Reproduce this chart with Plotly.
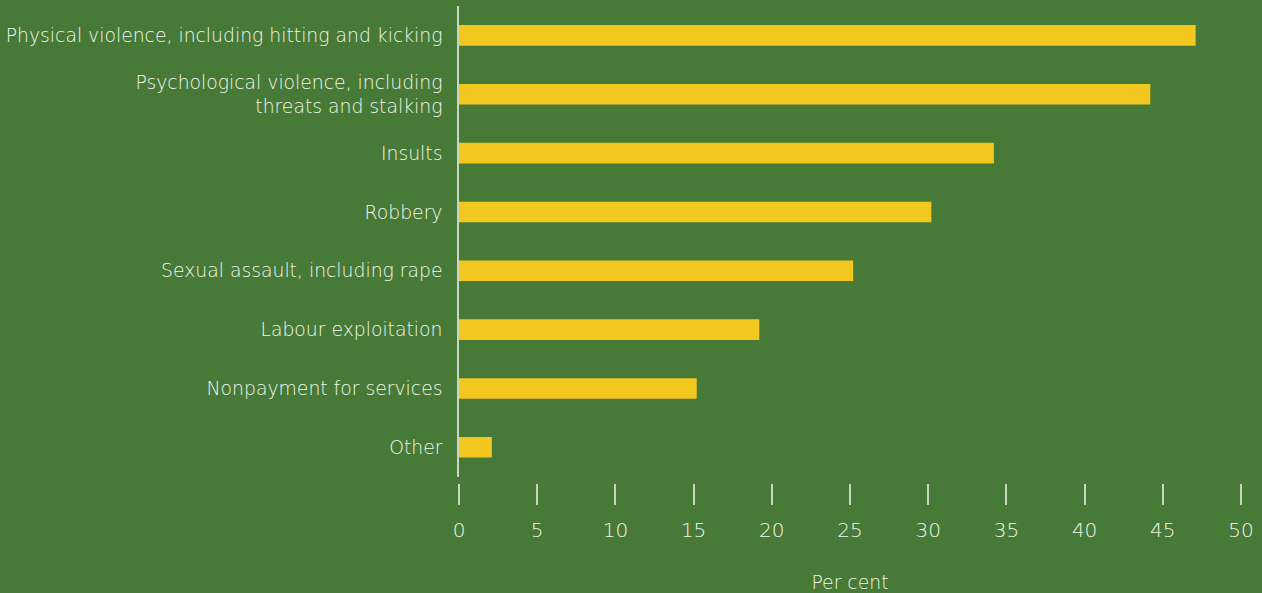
import plotly.graph_objects as go

categories = [
    "Physical violence, including hitting and kicking",
    "Psychological violence, including<br>threats and stalking",
    "Insults",
    "Robbery",
    "Sexual assault, including rape",
    "Labour exploitation",
    "Nonpayment for services",
    "Other",
]
values = [47.1, 44.2, 34.2, 30.2, 25.2, 19.2, 15.2, 2.1]
x_ticks = [0, 5, 10, 15, 20, 25, 30, 35, 40, 45, 50]

BG = "#477a37"
BAR = "#f2c71f"
TXT = "#f2f6ec"
LINE = "#c9d6c1"
FONT = "DejaVu Sans"
FS = 18.8
FT = 20

fig = go.Figure(go.Bar(
    x=values, y=categories, orientation="h",
    marker=dict(color=BAR, line=dict(width=0)),
    width=0.35, hoverinfo="x+y",
))

fig.update_layout(
    width=1262, height=593,
    paper_bgcolor=BG, plot_bgcolor=BG,
    margin=dict(l=459, r=21, t=6, b=110),
    font=dict(family=FONT, color=TXT, size=FS, weight=300),
    showlegend=False,
    xaxis=dict(
        range=[0, 50], tickvals=x_ticks, ticktext=[str(v) for v in x_ticks],
        showgrid=False, zeroline=False, showline=False,
        ticks="outside", ticklen=21, tickwidth=1.5, tickcolor=LINE,
        anchor="free", position=0, automargin=False,
        tickfont=dict(family=FONT, color=TXT, size=FT, weight=300),
        ticklabelstandoff=8,
        title=dict(text="Per cent", standoff=35,
                   font=dict(family=FONT, color=TXT, size=FS, weight=300)),
    ),
    yaxis=dict(
        domain=[0.0132, 1], automargin=False,
        categoryorder="array", categoryarray=categories[::-1],
        range=[-0.5, 7.5],
        showgrid=False, zeroline=False,
        showline=True, linecolor=LINE, linewidth=1.5,
        ticks="", ticklabelstandoff=11,
        tickfont=dict(family=FONT, color=TXT, size=FS, weight=300),
    ),
)

fig.write_html("out.html", config={"displayModeBar": False},
               post_script="document.body.style.margin='0';document.body.style.background='" + BG + "';")
